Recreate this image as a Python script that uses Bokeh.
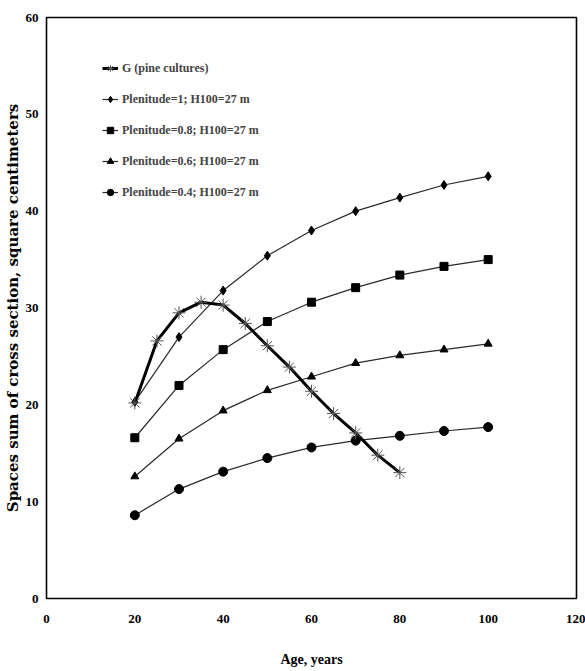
from bokeh.plotting import figure
from bokeh.models import Range1d, Legend, LegendItem, FixedTicker
from bokeh.embed import file_html
from bokeh.resources import INLINE

# Data
age_g = [20, 25, 30, 35, 40, 45, 50, 55, 60, 65, 70, 75, 80]
g_pine = [20.2, 26.6, 29.5, 30.6, 30.3, 28.4, 26.1, 23.9, 21.4, 19.1, 17.1, 14.8, 13.0]

age = [20, 30, 40, 50, 60, 70, 80, 90, 100]
plen_1 = [20.3, 27.0, 31.8, 35.4, 38.0, 40.0, 41.4, 42.7, 43.6]
plen_08 = [16.6, 22.0, 25.7, 28.6, 30.6, 32.1, 33.4, 34.3, 35.0]
plen_06 = [12.6, 16.5, 19.4, 21.5, 22.9, 24.3, 25.1, 25.7, 26.3]
plen_04 = [8.6, 11.3, 13.1, 14.5, 15.6, 16.3, 16.8, 17.3, 17.7]

labels = ["G (pine cultures)", "Plenitude=1; H100=27 m", "Plenitude=0.8; H100=27 m",
          "Plenitude=0.6; H100=27 m", "Plenitude=0.4; H100=27 m"]
x_ticks = [0, 20, 40, 60, 80, 100, 120]
y_ticks = [0, 10, 20, 30, 40, 50, 60]

SERIF = "Liberation Serif"

p = figure(width=585, height=671, x_range=Range1d(0, 120), y_range=Range1d(0, 60),
           output_backend="svg", toolbar_location=None,
           min_border_left=46, min_border_right=9, min_border_top=17, min_border_bottom=73)

p.xgrid.visible = False
p.ygrid.visible = False
p.outline_line_color = "black"
p.outline_line_width = 1.6

for ax in (p.xaxis[0], p.yaxis[0]):
    ax.axis_line_color = None
    ax.major_tick_line_color = None
    ax.minor_tick_line_color = None
    ax.major_tick_out = 0
    ax.major_tick_in = 0
    ax.minor_tick_out = 0
    ax.major_label_text_font = SERIF
    ax.major_label_text_font_style = "bold"
    ax.major_label_text_font_size = "13px"
    ax.major_label_text_color = "black"
    ax.axis_label_text_color = "black"

p.xaxis.ticker = FixedTicker(ticks=x_ticks)
p.yaxis.ticker = FixedTicker(ticks=y_ticks)
p.xaxis.major_label_standoff = 16
p.yaxis.major_label_standoff = 8

p.xaxis.axis_label = "Age, years"
p.xaxis.axis_label_text_font = SERIF
p.xaxis.axis_label_text_font_style = "bold"
p.xaxis.axis_label_text_font_size = "14px"
p.xaxis.axis_label_standoff = 26

p.yaxis.axis_label = "Spaces sum of cross section, square centimeters"
p.yaxis.axis_label_text_font = "DejaVu Serif"
p.yaxis.axis_label_text_font_style = "bold"
p.yaxis.axis_label_text_font_size = "15px"
p.yaxis.axis_label_standoff = 1

thin = "#2a2a2a"

l1 = p.line(age, plen_1, line_color=thin, line_width=1.2)
s1 = p.scatter(age, plen_1, marker="diamond", size=9, color="black")
l2 = p.line(age, plen_08, line_color=thin, line_width=1.2)
s2 = p.scatter(age, plen_08, marker="square", size=8, color="black")
l3 = p.line(age, plen_06, line_color=thin, line_width=1.2)
s3 = p.scatter(age, plen_06, marker="triangle", size=8, color="black")
l4 = p.line(age, plen_04, line_color=thin, line_width=1.2)
s4 = p.scatter(age, plen_04, marker="circle", size=9, color="black")

lg = p.line(age_g, g_pine, line_color="black", line_width=3)
sg = p.scatter(age_g, g_pine, marker="asterisk", size=13, line_color="#555555", line_width=1)

legend = Legend(items=[
    LegendItem(label=labels[0], renderers=[lg, sg]),
    LegendItem(label=labels[1], renderers=[l1, s1]),
    LegendItem(label=labels[2], renderers=[l2, s2]),
    LegendItem(label=labels[3], renderers=[l3, s3]),
    LegendItem(label=labels[4], renderers=[l4, s4]),
], location=(56, 396))
legend.border_line_color = None
legend.background_fill_alpha = 0
legend.padding = 0
legend.margin = 0
legend.spacing = 11
legend.glyph_height = 20
legend.glyph_width = 16
legend.label_height = 20
legend.label_standoff = 4
legend.label_text_font = SERIF
legend.label_text_font_style = "bold"
legend.label_text_font_size = "12px"
p.add_layout(legend, "center")

open("out.html", "w").write(file_html(p, INLINE))
